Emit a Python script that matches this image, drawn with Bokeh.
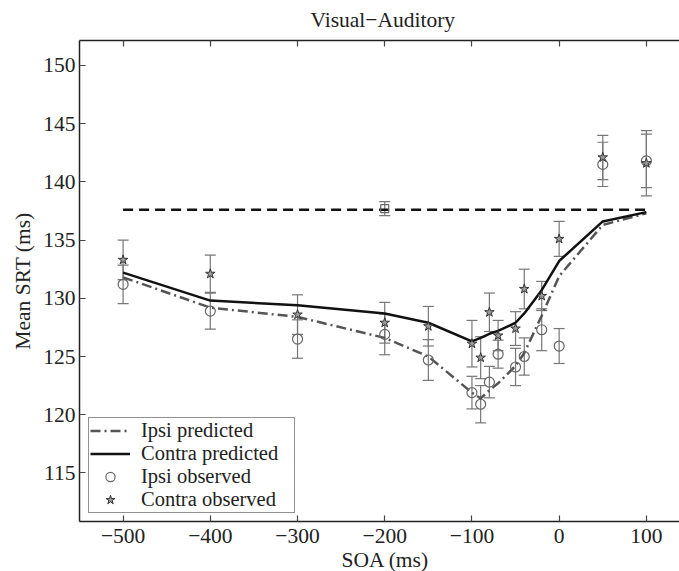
from bokeh.plotting import figure
from bokeh.models import (ColumnDataSource, Whisker, TeeHead, Legend, LegendItem,
                          LinearAxis, FixedTicker, Range1d, Title)
from bokeh.embed import file_html
from bokeh.resources import INLINE

# ---------------- data ----------------
title_text = "Visual\u2212Auditory"
x_label = "SOA (ms)"
y_label = "Mean SRT (ms)"

soa = [-500, -400, -300, -200, -150, -100, -90, -80, -70, -50, -40, -20, 0, 50, 100]

ipsi_obs = [131.2, 128.9, 126.5, 126.9, 124.7, 121.9, 120.9, 122.8, 125.2, 124.1, 125.0, 127.3, 125.9, 141.5, 141.8]
ipsi_err = [1.65, 1.55, 1.65, 1.75, 1.75, 1.4, 1.6, 1.35, 1.2, 1.6, 1.6, 1.8, 1.5, 1.9, 2.3]

contra_obs = [133.3, 132.1, 128.6, 127.9, 127.6, 126.1, 124.9, 128.8, 126.8, 127.4, 130.8, 130.2, 135.1, 142.1, 141.6]
contra_err = [1.7, 1.6, 1.7, 1.75, 1.7, 2.0, 1.8, 1.65, 1.3, 1.45, 1.7, 1.25, 1.5, 1.9, 2.8]

ipsi_pred = [131.8, 129.2, 128.4, 126.6, 125.0, 121.9, 121.4, 122.1, 122.7, 124.2, 125.3, 128.5, 131.9, 136.3, 137.3]
contra_pred = [132.2, 129.8, 129.4, 128.7, 127.9, 126.3, 126.6, 126.95, 127.2, 127.9, 128.7, 130.7, 133.2, 136.6, 137.4]

baseline_x = [-500, 100]
baseline_y = [137.6, 137.6]

unimodal_x = [-200]
unimodal_y = [137.7]
unimodal_err = [0.6]

x_ticks = [-500, -400, -300, -200, -100, 0, 100]
x_tick_labels = ["\u2212500", "\u2212400", "\u2212300", "\u2212200", "\u2212100", "0", "100"]
y_ticks = [115, 120, 125, 130, 135, 140, 145, 150]
y_tick_labels = ["115", "120", "125", "130", "135", "140", "145", "150"]

legend_labels = ["Ipsi predicted", "Contra predicted", "Ipsi observed", "Contra observed"]

x_view = (-550, 138)
y_view = (110.83, 152.14)

# ---------------- layout ----------------
FONT = "Liberation Serif"
FS = "21.5px"
TXT = "#222222"
W, H = 679, 571
TOP, BOTTOM, LEFT = 40, 49, 79

p = figure(width=W, height=H, x_range=Range1d(*x_view), y_range=Range1d(*y_view),
           output_backend="svg", toolbar_location=None,
           x_axis_location=None, y_axis_location=None,
           min_border_left=LEFT, min_border_right=0,
           min_border_top=TOP, min_border_bottom=BOTTOM)
p.outline_line_color = None
p.background_fill_color = "white"
p.border_fill_color = "white"
p.grid.grid_line_color = None

p.title.text = title_text
p.title.align = "left"
p.title.offset = 231
p.title.standoff = 13
p.title.vertical_align = "top"
p.title.text_font = FONT
p.title.text_font_size = FS
p.title.text_font_style = "normal"
p.title.text_color = TXT


def style_axis(ax, ticks, labels):
    ax.ticker = FixedTicker(ticks=ticks)
    ax.major_label_overrides = dict(zip(ticks, labels))
    ax.major_tick_in = 6
    ax.major_tick_out = 0
    ax.minor_tick_line_color = None
    ax.axis_line_color = "#222222"
    ax.axis_line_width = 1.5
    ax.major_tick_line_color = "#444444"
    ax.major_tick_line_width = 1.2
    ax.major_label_text_font = FONT
    ax.major_label_text_font_size = FS
    ax.major_label_text_color = TXT


left_ax = LinearAxis(axis_label=y_label)
style_axis(left_ax, y_ticks, y_tick_labels)
left_ax.major_label_standoff = 4
left_ax.axis_label_text_font = FONT
left_ax.axis_label_text_font_size = FS
left_ax.axis_label_text_font_style = "normal"
left_ax.axis_label_text_color = TXT
left_ax.axis_label_standoff = 5
p.add_layout(left_ax, "left")

bottom_ax = LinearAxis()
style_axis(bottom_ax, x_ticks, x_tick_labels)
bottom_ax.major_label_standoff = 7
p.add_layout(bottom_ax, "below")

top_ax = LinearAxis()
style_axis(top_ax, x_ticks, ["" for _ in x_ticks])
top_ax.major_label_standoff = 0
p.add_layout(top_ax, "above")

p.add_layout(Title(text=x_label, align="left", offset=262, standoff=0,
                   text_font=FONT, text_font_size=FS, text_font_style="normal",
                   text_color=TXT), "below")

# ---------------- error bars ----------------
def whisker(xs, ys, errs, color="#777777"):
    src = ColumnDataSource(dict(x=xs,
                                lo=[v - e for v, e in zip(ys, errs)],
                                hi=[v + e for v, e in zip(ys, errs)]))
    w = Whisker(base="x", upper="hi", lower="lo", source=src,
                line_color=color, line_width=1.2,
                upper_head=TeeHead(size=11, line_color=color, line_width=1.2),
                lower_head=TeeHead(size=11, line_color=color, line_width=1.2))
    p.add_layout(w)

whisker(soa, ipsi_obs, ipsi_err)
whisker(soa, contra_obs, contra_err)
whisker(unimodal_x, unimodal_y, unimodal_err)

# ---------------- lines ----------------
r_base = p.line(baseline_x, baseline_y, line_color="#111111", line_width=2.5, line_dash="10 6")
r_ip = p.line(soa, ipsi_pred, line_color="#555555", line_width=2.5, line_dash="10 4 2 4")
r_cp = p.line(soa, contra_pred, line_color="#111111", line_width=2.5)

# ---------------- observed points ----------------
r_io = p.scatter(soa, ipsi_obs, marker="circle", size=10, fill_color=None,
                 line_color="#666666", line_width=1.2)
r_co = p.scatter(soa, contra_obs, marker="star", size=10, fill_color="#9a9a9a",
                 line_color="#333333", line_width=1.0)
r_uni = p.scatter(unimodal_x, unimodal_y, marker="square", size=8, fill_color=None,
                  line_color="#666666", line_width=1.2)

# ---------------- legend ----------------
legend = Legend(items=[LegendItem(label=legend_labels[0], renderers=[r_ip]),
                       LegendItem(label=legend_labels[1], renderers=[r_cp]),
                       LegendItem(label=legend_labels[2], renderers=[r_io]),
                       LegendItem(label=legend_labels[3], renderers=[r_co])],
                location=(9, 8), margin=0, padding=1, spacing=0,
                glyph_width=40, glyph_height=23, label_height=23, label_width=152,
                label_standoff=11, label_text_font=FONT, label_text_font_size="20.5px",
                label_text_color=TXT, border_line_color="#222222", border_line_width=1,
                background_fill_color="white", background_fill_alpha=1.0)
p.add_layout(legend)

open("out.html", "w").write(file_html(p, INLINE))
